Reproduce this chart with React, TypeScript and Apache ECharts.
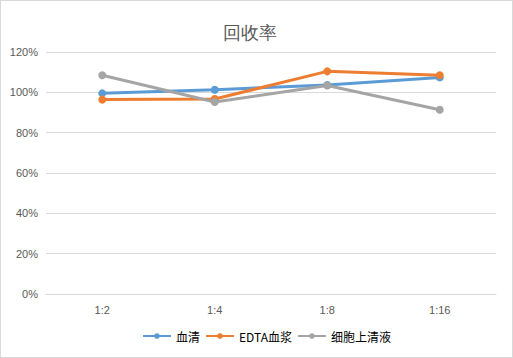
import React, { useEffect, useRef } from "react";
import * as echarts from "echarts";

const categories = ["1:2", "1:4", "1:8", "1:16"];
const serum = [99.5, 101.3, 103.6, 107.4];
const edtaPlasma = [96.4, 96.7, 110.4, 108.5];
const supernatant = [108.5, 95.2, 103.4, 91.4];
const seriesNames = ["血清", "EDTA血浆", "细胞上清液"];
const colors = ["#5B9BD5", "#ED7D31", "#A5A5A5"];

export default function App() {
  const ref = useRef<HTMLDivElement>(null);
  useEffect(() => {
    if (!ref.current) return;
    const chart = echarts.init(ref.current, undefined, { renderer: "svg" });
    const data = [serum, edtaPlasma, supernatant];
    chart.setOption({
      animation: false,
      backgroundColor: "#ffffff",
      title: {
        text: "回收率",
        left: 244,
        top: 18,
        textAlign: "center",
        textStyle: {
          fontFamily: "serif",
          fontSize: 18,
          fontWeight: "normal",
          color: "#595959",
        },
      },
      legend: {
        bottom: 10,
        left: 136,
        itemWidth: 28,
        itemHeight: 7,
        itemGap: 5,
        textStyle: { fontSize: 12, color: "#000", fontFamily: "Noto Sans CJK SC" },
        data: seriesNames,
      },
      grid: { left: 45, right: 16, top: 51, bottom: 63 },
      xAxis: {
        type: "category",
        data: categories,
        boundaryGap: true,
        axisLine: { lineStyle: { color: "#d9d9d9" } },
        axisTick: { show: false },
        axisLabel: { color: "#595959", fontSize: 11, margin: 10 },
      },
      yAxis: {
        type: "value",
        min: 0,
        max: 120,
        interval: 20,
        axisLine: { show: false },
        axisTick: { show: false },
        splitLine: { lineStyle: { color: "#d9d9d9" } },
        axisLabel: { color: "#595959", fontSize: 11, formatter: "{value}%", margin: 8 },
      },
      series: seriesNames.map((name, i) => ({
        name,
        type: "line",
        data: data[i],
        symbol: "circle",
        symbolSize: 8,
        lineStyle: { width: 3, color: colors[i] },
        itemStyle: { color: colors[i] },
      })),
    });
    return () => chart.dispose();
  }, []);
  return (
    <div
      ref={ref}
      style={{
        position: "fixed",
        left: 0,
        top: 0,
        width: 511,
        height: 356,
        border: "1px solid #d9d9d9",
      }}
    />
  );
}
